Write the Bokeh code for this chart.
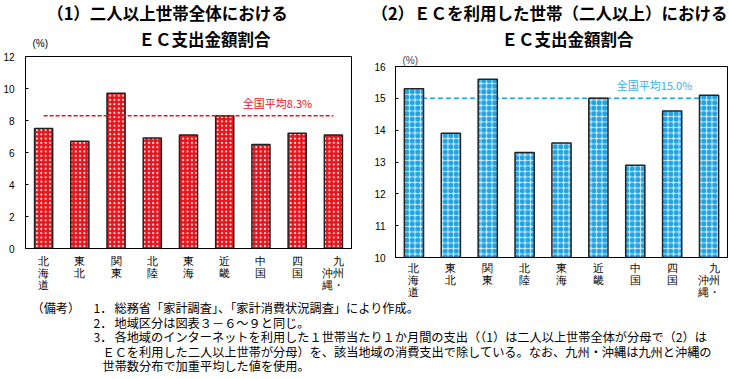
from bokeh.plotting import figure
from bokeh.models import Range1d, FactorRange, Label, FixedTicker, Title
from bokeh.layouts import column, row
from bokeh.embed import file_html
from bokeh.resources import INLINE
from bokeh.core.properties import value

# ---------------- data ----------------
regions = ["北海道", "東北", "関東", "北陸", "東海", "近畿", "中国", "四国", "九州・沖縄"]
region_labels = ["北\n海\n道", "東\n北", "関\n東", "北\n陸", "東\n海", "近\n畿", "中\n国", "四\n国", "　九\n沖州\n縄・"]
share_all = [7.5, 6.7, 9.7, 6.9, 7.1, 8.3, 6.5, 7.2, 7.1]      # (1) 二人以上世帯全体
share_ec = [15.3, 13.9, 15.6, 13.3, 13.6, 15.0, 12.9, 14.6, 15.1]  # (2) ECを利用した世帯
avg_all = 8.3
avg_ec = 15.0
ticks_all = [0, 2, 4, 6, 8, 10, 12]
ticks_ec = [10, 11, 12, 13, 14, 15, 16]
title1 = ["（1）二人以上世帯全体における", "ＥＣ支出金額割合"]
title2 = ["（2）ＥＣを利用した世帯（二人以上）における", "ＥＣ支出金額割合"]
avg_label_all = "全国平均8.3%"
avg_label_ec = "全国平均15.0%"
unit = "(%)"
notes_head = "（備考）"
notes_nums = ["1．", "2．", "3．", "", ""]
notes_text = [
    "総務省「家計調査」、「家計消費状況調査」により作成。",
    "地域区分は図表３－６～９と同じ。",
    "各地域のインターネットを利用した１世帯当たり１か月間の支出（（1）は二人以上世帯全体が分母で（2）は",
    "ＥＣを利用した二人以上世帯が分母）を、該当地域の消費支出で除している。なお、九州・沖縄は九州と沖縄の",
    "世帯数分布で加重平均した値を使用。",
]

FONT = "Noto Sans CJK JP"
NUMFONT = "Liberation Sans"
RED = "#e8141c"
BLUE = "#1fa2e3"

factors = region_labels  # stacked (vertical-writing) category names


def style(p, ticks, label_standoff_y, label_standoff_x):
    p.xgrid.grid_line_color = None
    p.ygrid.grid_line_color = None
    p.outline_line_color = "black"
    p.outline_line_width = 1
    p.background_fill_color = "white"
    p.border_fill_color = "white"
    p.yaxis.ticker = FixedTicker(ticks=ticks)
    p.yaxis.minor_tick_line_color = None
    p.yaxis.major_tick_in = 3
    p.yaxis.major_tick_out = 0
    p.yaxis.major_label_standoff = label_standoff_y
    p.yaxis.major_label_text_font = NUMFONT
    p.yaxis.major_label_text_font_size = "10px"
    p.yaxis.major_label_text_color = "black"
    p.yaxis.axis_line_color = "black"
    p.xaxis.major_tick_line_color = None
    p.xaxis.major_tick_in = 0
    p.xaxis.major_tick_out = 0
    p.xaxis.axis_line_color = "black"
    p.xaxis.major_label_standoff = label_standoff_x
    p.xaxis.major_label_text_font = NUMFONT
    p.xaxis.major_label_text_font_size = "11px"
    p.xaxis.major_label_text_line_height = 1.0
    p.xaxis.major_label_text_color = "black"


def add_label(p, x, y, text, size, color="black", align="center"):
    p.add_layout(Label(x=x, y=y, text=text, text_font=FONT, text_font_size=size,
                       text_color=color, text_align=align, text_baseline="middle"))


# ---------------- titles strip ----------------
pt = figure(width=729, height=50, x_range=Range1d(0, 729), y_range=Range1d(50, 0),
            min_border=0, x_axis_type=None, y_axis_type=None,
            output_backend="svg", toolbar_location=None, tools="")
pt.xgrid.grid_line_color = None
pt.ygrid.grid_line_color = None
pt.outline_line_color = None
pt.text(x=[167, 204, 549, 567], y=[12, 38, 12, 38],
        text=[title1[0], title1[1], title2[0], title2[1]],
        text_font=value(FONT), text_font_size="16.5px", text_font_style="bold",
        text_align="center", text_baseline="middle", text_color="black")
pt.text(x=[32], y=[43], text=[unit], text_font=value(NUMFONT), text_font_size="10px",
        text_align="left", text_baseline="middle", text_color="black")

# ---------------- left chart ----------------
p1 = figure(x_range=FactorRange(*factors), y_range=Range1d(0, 12),
            width=365, height=250, min_border_left=22, min_border_right=14,
            min_border_top=6, min_border_bottom=52, frame_align=False,
            output_backend="svg", toolbar_location=None, tools="")
style(p1, ticks_all, 11, 6)
p1.vbar(x=factors, top=share_all, bottom=0, width=0.5, fill_color=RED,
        line_color="#222222", line_width=1.5,
        hatch_pattern="dot", hatch_color="#ffe8e8", hatch_scale=4.3, hatch_weight=1.5)
p1.line(x=[factors[0], factors[-1]], y=[avg_all, avg_all], line_color=RED,
        line_width=1.5, line_dash="4 2")
add_label(p1, 6.0, 9.1, avg_label_all, "11px", RED, "left")

# ---------------- right chart ----------------
p2 = figure(x_range=FactorRange(*factors), y_range=Range1d(10, 16),
            width=364, height=250, min_border_left=30, min_border_right=2,
            min_border_top=16, min_border_bottom=43, frame_align=False,
            output_backend="svg", toolbar_location=None, tools="")
p2.title = Title(text=unit, align="left", offset=7, standoff=2,
                 text_font=NUMFONT, text_font_size="10px", text_font_style="normal")
style(p2, ticks_ec, 10, 4)
p2.line(x=[factors[0], factors[-1]], y=[avg_ec, avg_ec], line_color=BLUE,
        line_width=1.5, line_dash="5 3")
p2.vbar(x=factors, top=share_ec, bottom=ticks_ec[0], width=0.52, fill_color="#c6e9f9",
        line_color="#222222", line_width=1.5,
        hatch_pattern="ring", hatch_color=BLUE, hatch_scale=5.5, hatch_weight=2.3)
add_label(p2, 6.0, 15.43, avg_label_ec, "11px", "#39b0e8", "left")

# ---------------- notes ----------------
pn = figure(width=729, height=79, x_range=Range1d(0, 729), y_range=Range1d(79, 0),
            min_border=0, x_axis_type=None, y_axis_type=None,
            output_backend="svg", toolbar_location=None, tools="")
pn.xgrid.grid_line_color = None
pn.ygrid.grid_line_color = None
pn.outline_line_color = None
ys = [7.5 + 14.6 * i for i in range(len(notes_text))]
NS = "12.2px"
pn.text(x=[31], y=[ys[0]], text=[notes_head], text_font=value(FONT), text_font_size=NS,
        text_baseline="middle", text_color="black")
pn.text(x=[93] * len(notes_nums), y=ys, text=notes_nums, text_font=value(FONT),
        text_font_size=NS, text_baseline="middle", text_color="black")
xs = [114, 114, 114, 102, 102]
pn.text(x=xs, y=ys, text=notes_text, text_font=value(FONT), text_font_size=NS,
        text_baseline="middle", text_color="black")

layout = column(pt, row(p1, p2), pn)
open("out.html", "w").write(file_html(layout, INLINE))
